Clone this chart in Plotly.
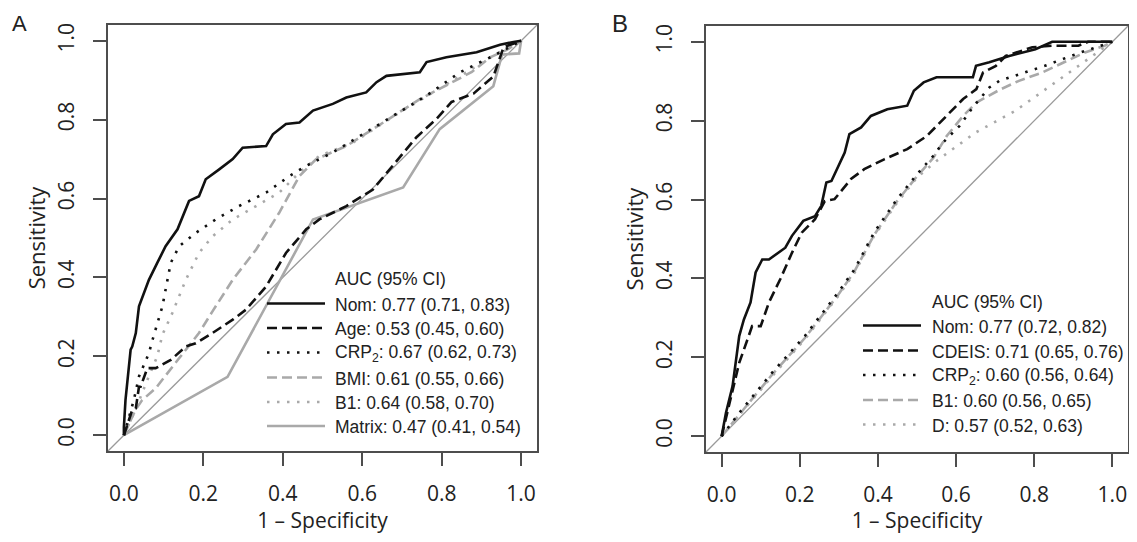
import plotly.graph_objects as go

# ---------------- Panel A data (1 - specificity, sensitivity) ----------------
A_nom_x = [0, 0.0, 0.004, 0.017, 0.021, 0.030, 0.038, 0.063, 0.084, 0.105, 0.135, 0.164, 0.189, 0.206, 0.240, 0.274, 0.299, 0.358, 0.375, 0.408, 0.442, 0.476, 0.526, 0.560, 0.610, 0.636, 0.661, 0.745, 0.762, 0.812, 0.888, 0.947, 0.981, 1.0]
A_nom_y = [0, 0.021, 0.089, 0.217, 0.225, 0.259, 0.327, 0.394, 0.437, 0.479, 0.522, 0.594, 0.606, 0.649, 0.674, 0.700, 0.729, 0.733, 0.763, 0.789, 0.793, 0.823, 0.840, 0.856, 0.869, 0.895, 0.911, 0.920, 0.946, 0.958, 0.971, 0.990, 0.997, 1.0]

A_age_x = [0, 0.021, 0.030, 0.038, 0.042, 0.059, 0.080, 0.118, 0.156, 0.181, 0.223, 0.274, 0.307, 0.358, 0.408, 0.459, 0.492, 0.560, 0.627, 0.677, 0.736, 0.787, 0.825, 0.880, 0.930, 0.947, 0.956, 1.0]
A_age_y = [0, 0.064, 0.068, 0.123, 0.123, 0.170, 0.170, 0.191, 0.225, 0.233, 0.259, 0.293, 0.318, 0.377, 0.462, 0.522, 0.547, 0.581, 0.623, 0.683, 0.755, 0.802, 0.845, 0.866, 0.909, 0.958, 0.984, 1.0]

A_crp_x = [0, 0.025, 0.038, 0.050, 0.063, 0.071, 0.080, 0.088, 0.097, 0.118, 0.139, 0.181, 0.231, 0.290, 0.358, 0.417, 0.459, 0.526, 0.610, 0.678, 0.762, 0.846, 0.930, 1.0]
A_crp_y = [0, 0.089, 0.149, 0.178, 0.208, 0.238, 0.268, 0.297, 0.327, 0.437, 0.479, 0.513, 0.547, 0.581, 0.615, 0.657, 0.683, 0.717, 0.768, 0.810, 0.861, 0.920, 0.962, 1.0]

A_bmi_x = [0, 0.029, 0.046, 0.080, 0.139, 0.189, 0.223, 0.274, 0.333, 0.391, 0.442, 0.484, 0.560, 0.652, 0.745, 0.821, 0.876, 0.922, 0.964, 1.0]
A_bmi_y = [0, 0.064, 0.089, 0.119, 0.195, 0.259, 0.314, 0.394, 0.471, 0.564, 0.657, 0.700, 0.733, 0.793, 0.852, 0.892, 0.921, 0.958, 0.977, 1.0]

A_b1_x = [0, 0.029, 0.059, 0.084, 0.097, 0.122, 0.156, 0.189, 0.223, 0.274, 0.333, 0.391, 0.442, 0.492, 0.577, 0.694, 0.821, 0.930, 1.0]
A_b1_y = [0, 0.064, 0.140, 0.200, 0.255, 0.310, 0.394, 0.462, 0.504, 0.547, 0.581, 0.615, 0.666, 0.708, 0.742, 0.818, 0.895, 0.962, 1.0]

A_matrix_x = [0, 0.261, 0.476, 0.703, 0.795, 0.930, 0.952, 0.995, 1.0]
A_matrix_y = [0, 0.148, 0.547, 0.628, 0.776, 0.885, 0.965, 0.968, 1.0]

# ---------------- Panel B data ----------------
B_nom_x = [0, 0.011, 0.028, 0.045, 0.057, 0.074, 0.087, 0.104, 0.121, 0.163, 0.180, 0.209, 0.239, 0.255, 0.268, 0.281, 0.315, 0.327, 0.357, 0.382, 0.424, 0.475, 0.492, 0.517, 0.550, 0.643, 0.651, 0.685, 0.736, 0.803, 0.846, 1.0]
B_nom_y = [0, 0.059, 0.127, 0.254, 0.296, 0.339, 0.415, 0.448, 0.448, 0.478, 0.508, 0.546, 0.558, 0.584, 0.643, 0.647, 0.719, 0.766, 0.783, 0.812, 0.829, 0.838, 0.876, 0.897, 0.910, 0.910, 0.939, 0.948, 0.964, 0.981, 1.0, 1.0]

B_cdeis_x = [0, 0.019, 0.045, 0.066, 0.078, 0.100, 0.121, 0.150, 0.180, 0.205, 0.239, 0.264, 0.289, 0.331, 0.365, 0.416, 0.475, 0.525, 0.576, 0.618, 0.652, 0.669, 0.702, 0.727, 0.795, 0.846, 0.913, 0.938, 1.0]
B_cdeis_y = [0, 0.076, 0.186, 0.245, 0.279, 0.279, 0.339, 0.398, 0.465, 0.516, 0.550, 0.596, 0.601, 0.652, 0.677, 0.702, 0.728, 0.761, 0.812, 0.855, 0.880, 0.922, 0.939, 0.964, 0.986, 0.990, 0.990, 1.0, 1.0]

B_crp_x = [0, 0.045, 0.129, 0.213, 0.298, 0.340, 0.390, 0.449, 0.500, 0.542, 0.567, 0.609, 0.643, 0.685, 0.711, 0.827, 0.913, 0.970, 1.0]
B_crp_y = [0, 0.059, 0.161, 0.254, 0.364, 0.423, 0.516, 0.601, 0.664, 0.711, 0.745, 0.787, 0.834, 0.884, 0.901, 0.939, 0.971, 0.990, 1.0]

B_b1_x = [0, 0.045, 0.129, 0.213, 0.298, 0.340, 0.390, 0.449, 0.500, 0.542, 0.576, 0.618, 0.652, 0.711, 0.761, 0.820, 0.875, 0.930, 0.980, 1.0]
B_b1_y = [0, 0.055, 0.156, 0.249, 0.358, 0.418, 0.510, 0.596, 0.659, 0.706, 0.761, 0.812, 0.846, 0.878, 0.901, 0.922, 0.948, 0.973, 0.990, 1.0]

B_d_x = [0, 0.045, 0.129, 0.213, 0.298, 0.340, 0.390, 0.449, 0.500, 0.550, 0.600, 0.650, 0.700, 0.750, 0.800, 0.850, 0.900, 0.950, 1.0]
B_d_y = [0, 0.052, 0.152, 0.246, 0.355, 0.414, 0.507, 0.592, 0.656, 0.698, 0.735, 0.770, 0.797, 0.824, 0.859, 0.894, 0.928, 0.964, 1.0]

# Legend texts
A_header = "AUC (95% CI)"
A_labels = ["Nom: 0.77 (0.71, 0.83)", "Age: 0.53 (0.45, 0.60)", "CRP<sub>2</sub>: 0.67 (0.62, 0.73)",
            "BMI: 0.61 (0.55, 0.66)", "B1: 0.64 (0.58, 0.70)", "Matrix: 0.47 (0.41, 0.54)"]
B_header = "AUC (95% CI)"
B_labels = ["Nom: 0.77 (0.72, 0.82)", "CDEIS: 0.71 (0.65, 0.76)", "CRP<sub>2</sub>: 0.60 (0.56, 0.64)",
            "B1: 0.60 (0.56, 0.65)", "D: 0.57 (0.52, 0.63)"]

tick_vals = [0.0, 0.2, 0.4, 0.6, 0.8, 1.0]
tick_text = ["0.0", "0.2", "0.4", "0.6", "0.8", "1.0"]

# ---------------- styles ----------------
BLACK = "#111111"
GREY = "#a9a9a9"
DASH = "10px,5px"
DOT = "2.5px,7.5px"
LW = 2.6
W, H = 1137, 542               # browser window
OFF = 8                        # default page body margin
FW, FH = W - 2 * OFF, H - 2 * OFF  # figure fits inside the body, no overflow

styles_A = [(BLACK, "solid"), (BLACK, DASH), (BLACK, DOT), (GREY, DASH), (GREY, DOT), (GREY, "solid")]
styles_B = [(BLACK, "solid"), (BLACK, DASH), (BLACK, DOT), (GREY, DASH), (GREY, DOT)]

fig = go.Figure()

A_series = [(A_nom_x, A_nom_y), (A_age_x, A_age_y), (A_crp_x, A_crp_y),
            (A_bmi_x, A_bmi_y), (A_b1_x, A_b1_y), (A_matrix_x, A_matrix_y)]
B_series = [(B_nom_x, B_nom_y), (B_cdeis_x, B_cdeis_y), (B_crp_x, B_crp_y),
            (B_b1_x, B_b1_y), (B_d_x, B_d_y)]

for (xs, ys), (c, d) in reversed(list(zip(A_series, styles_A))):
    fig.add_trace(go.Scatter(x=xs, y=ys, mode="lines", xaxis="x", yaxis="y",
                             line=dict(color=c, dash=d, width=LW), showlegend=False, hoverinfo="skip"))
for (xs, ys), (c, d) in reversed(list(zip(B_series, styles_B))):
    fig.add_trace(go.Scatter(x=xs, y=ys, mode="lines", xaxis="x2", yaxis="y2",
                             line=dict(color=c, dash=d, width=LW), showlegend=False, hoverinfo="skip"))

def px2x(p):
    return (p - OFF) / FW

def px2y(p):
    return 1 - (p - OFF) / FH

axis_common = dict(range=[-0.04, 1.04], tickvals=tick_vals, ticktext=tick_text,
                   showline=True, mirror=True, linecolor="#4d4d4d", linewidth=1.5,
                   ticks="outside", ticklen=13, tickwidth=1.5, tickcolor="#4d4d4d",
                   showgrid=False, zeroline=False, automargin=False,
                   tickfont=dict(family="Open Sans", size=21, color="#222"))

title_font = dict(family="Open Sans", size=22, color="#222")
xtitle_font = dict(family="Open Sans", size=21, color="#222")

fig.update_layout(
    width=FW, height=FH, margin=dict(l=0, r=0, t=0, b=0),
    paper_bgcolor="white", plot_bgcolor="white",
    xaxis=dict(domain=[px2x(108), px2x(537)], anchor="y", ticklabelstandoff=10,
               title=dict(text="1 \u2013 Specificity", font=xtitle_font, standoff=2), **axis_common),
    yaxis=dict(domain=[px2y(451), px2y(25)], anchor="x", tickangle=-90, ticklabelstandoff=11,
               title=dict(text="Sensitivity", font=title_font, standoff=0), **axis_common),
    xaxis2=dict(domain=[px2x(706), px2x(1128)], anchor="y2", ticklabelstandoff=10,
                title=dict(text="1 \u2013 Specificity", font=xtitle_font, standoff=2), **axis_common),
    yaxis2=dict(domain=[px2y(452), px2y(26)], anchor="x2", tickangle=-90, ticklabelstandoff=11,
                title=dict(text="Sensitivity", font=title_font, standoff=0), **axis_common),
)

shapes = []
for xr, yr in [("x domain", "y domain"), ("x2 domain", "y2 domain")]:
    shapes.append(dict(type="line", xref=xr, yref=yr, x0=0, y0=0, x1=1, y1=1,
                       line=dict(color="#9a9a9a", width=1.3), layer="below"))

annotations = []
leg_font = dict(family="Liberation Sans, Arial", size=17.5, color="#222")

def add_legend(header, labels, styles, key_x0, key_x1, text_x, header_y, ys):
    annotations.append(dict(text=header, x=px2x(text_x), y=px2y(header_y), xref="paper", yref="paper",
                            xanchor="left", yanchor="middle", showarrow=False, font=leg_font))
    for lab, (c, d), yy in zip(labels, styles, ys):
        shapes.append(dict(type="line", xref="paper", yref="paper",
                           x0=px2x(key_x0), x1=px2x(key_x1), y0=px2y(yy), y1=px2y(yy),
                           line=dict(color=c, dash=d, width=LW)))
        annotations.append(dict(text=lab, x=px2x(text_x), y=px2y(yy + 1), xref="paper", yref="paper",
                                xanchor="left", yanchor="middle", showarrow=False, font=leg_font))

add_legend(A_header, A_labels, styles_A, 267, 325, 333, 279, [303.5, 328, 352.5, 377.5, 402, 426])
add_legend(B_header, B_labels, styles_B, 863, 921, 930, 301.5, [325.5, 350.5, 375, 400, 424.5])

annotations.append(dict(text="A", x=px2x(20), y=px2y(9), xref="paper", yref="paper",
                        xanchor="center", yanchor="top", showarrow=False,
                        font=dict(family="Liberation Sans, Arial", size=22, color="#222")))
annotations.append(dict(text="B", x=px2x(620), y=px2y(8), xref="paper", yref="paper",
                        xanchor="center", yanchor="top", showarrow=False,
                        font=dict(family="Liberation Sans, Arial", size=24, color="#222")))

fig.update_layout(shapes=shapes, annotations=annotations)
fig.write_html("out.html")
